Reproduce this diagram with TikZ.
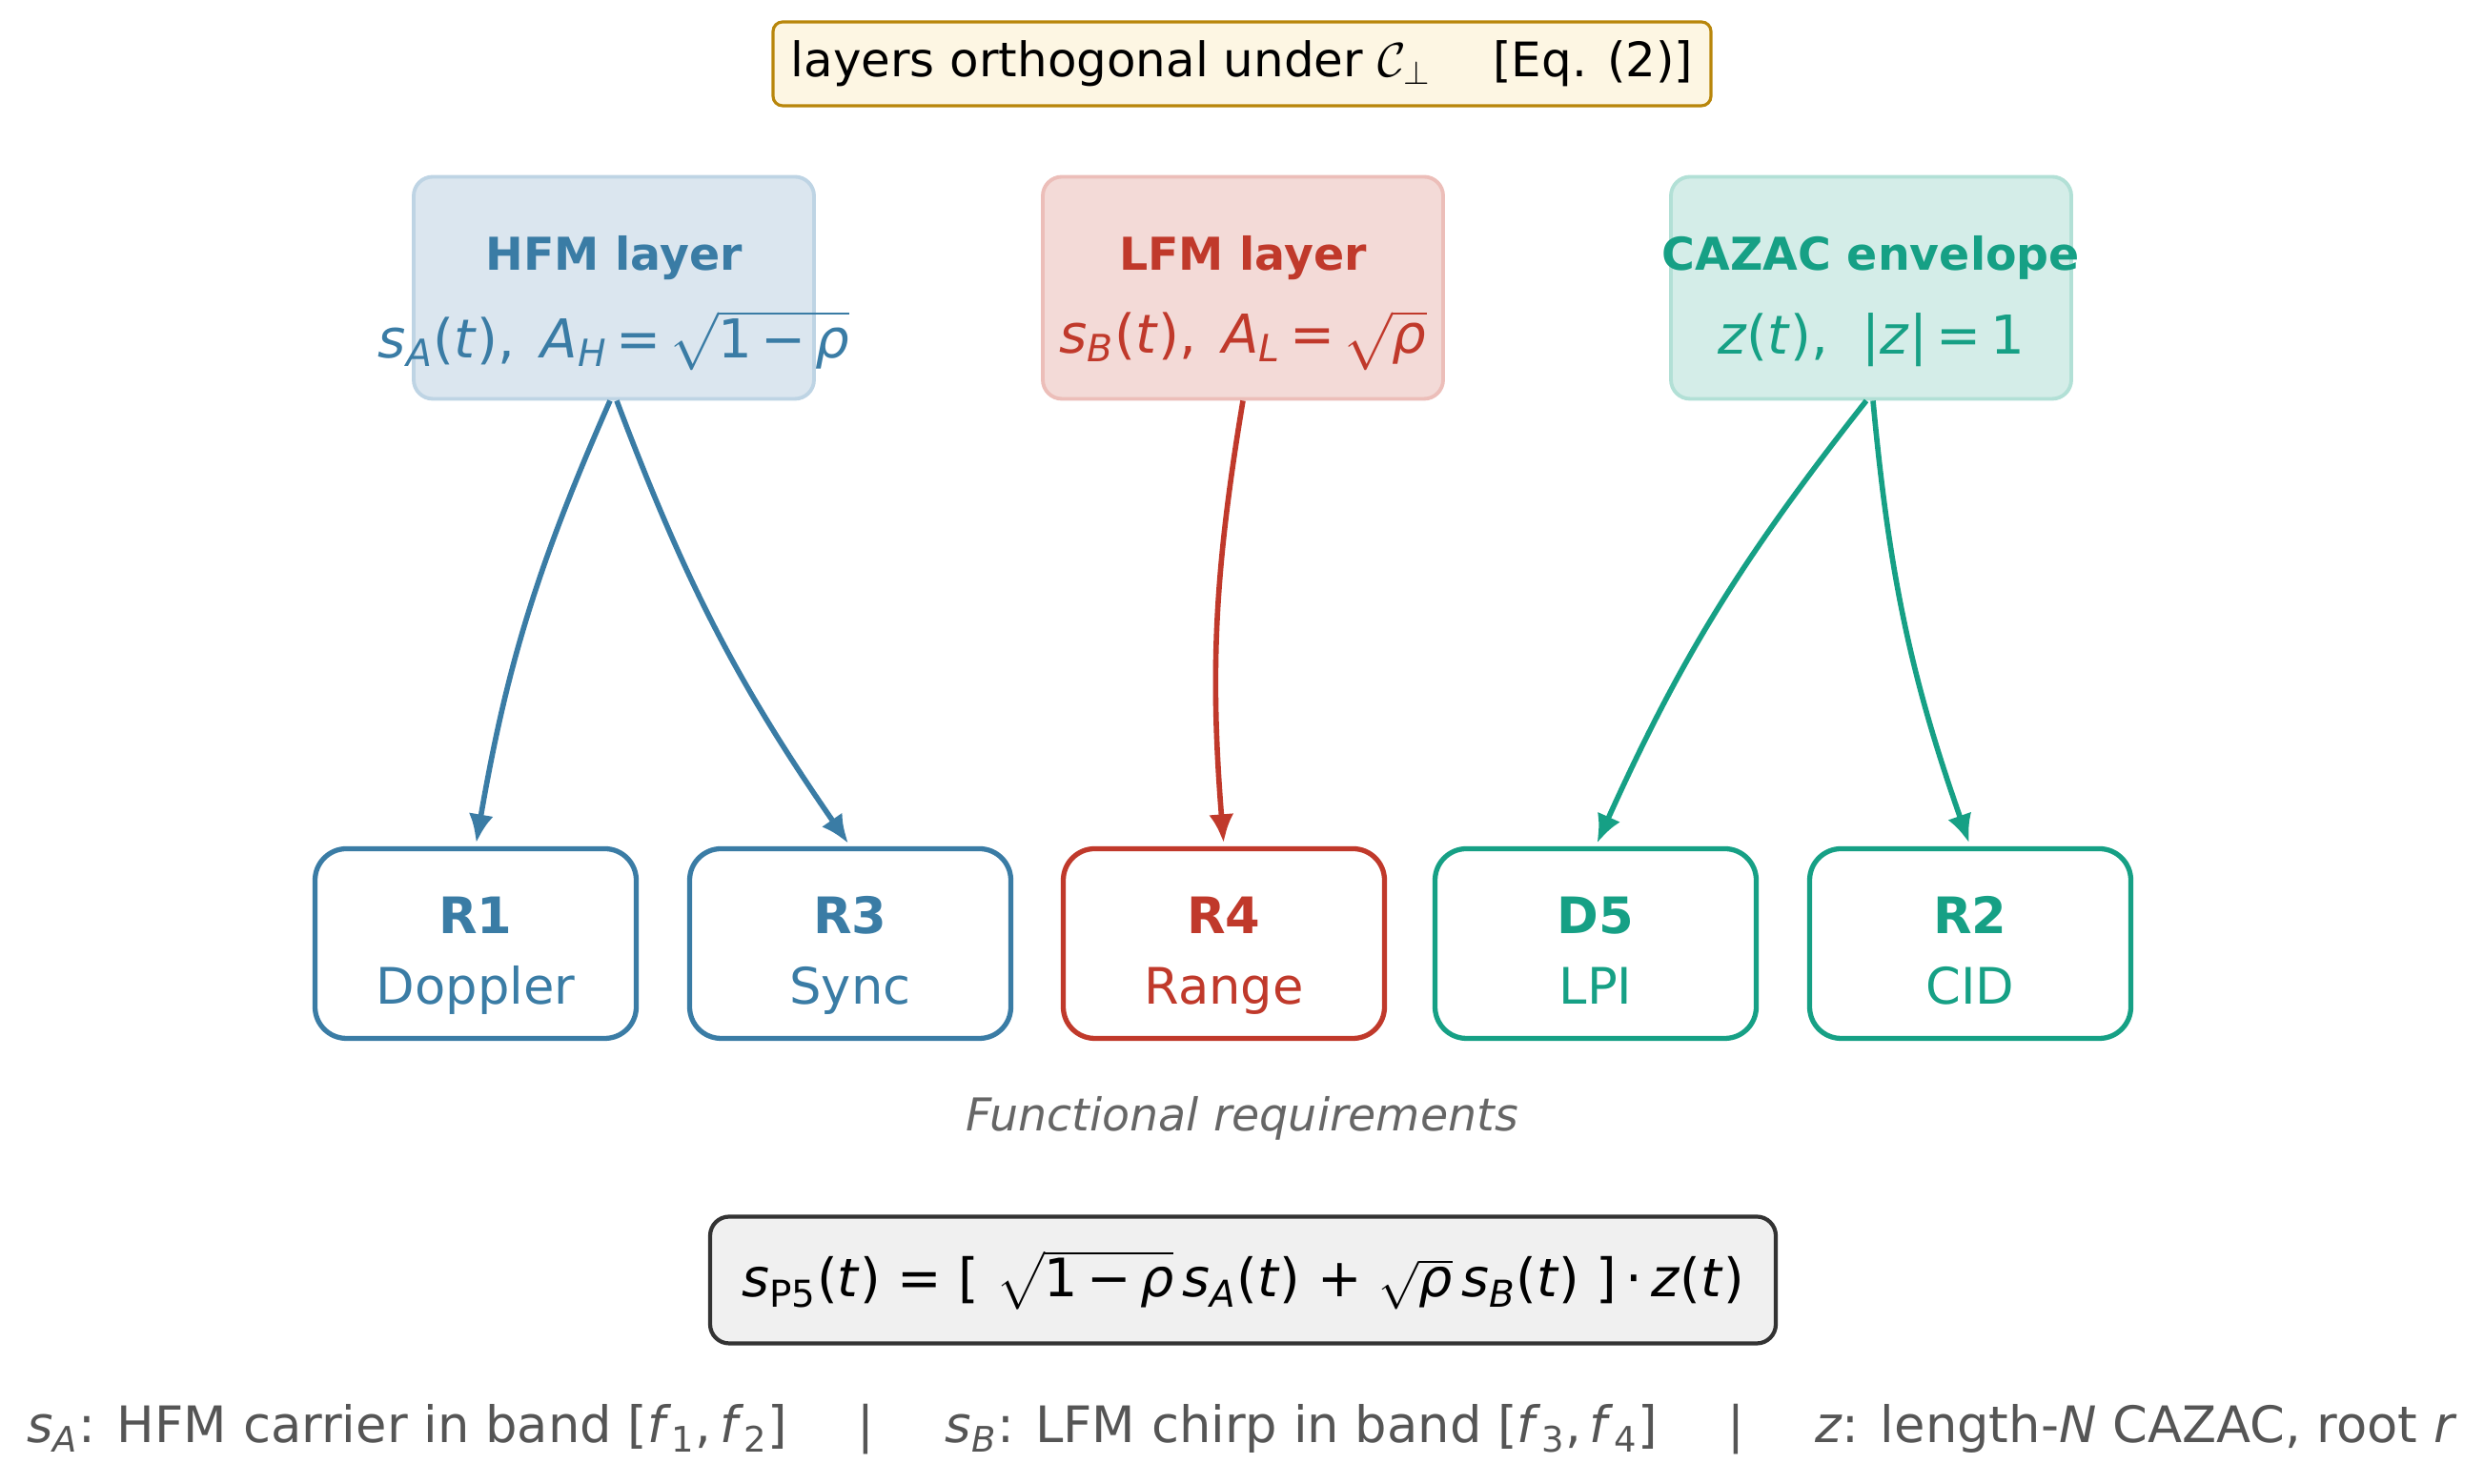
\documentclass[tikz,border=0pt]{standalone}
\usepackage{amsmath}
\usepackage{fontspec}
\setmainfont{DejaVu Sans}
\usetikzlibrary{arrows.meta}

\definecolor{hfmblue}{HTML}{3A7CA5}
\definecolor{hfmfill}{HTML}{DBE6EF}
\definecolor{hfmedge}{HTML}{BED4E4}
\definecolor{lfmred}{HTML}{C0392B}
\definecolor{lfmfill}{HTML}{F3DAD7}
\definecolor{lfmedge}{HTML}{ECBEB9}
\definecolor{czgreen}{HTML}{16A085}
\definecolor{czfill}{HTML}{D4EDE8}
\definecolor{czedge}{HTML}{B2E0D6}
\definecolor{notefill}{HTML}{FDF6E3}
\definecolor{noteedge}{HTML}{B8860B}
\definecolor{eqfill}{HTML}{F0F0F0}
\definecolor{eqedge}{HTML}{333333}
\definecolor{capgray}{HTML}{555555}
\definecolor{reqgray}{HTML}{666666}

\newcommand{\vi}[1]{\textit{#1}}
\newcommand{\rt}[1]{$\sqrt{\text{#1}}$}

\begin{document}
\begin{tikzpicture}[x=1cm,y=1cm,
  layerbox/.style={rounded corners=0.2cm,line width=1.1pt,minimum width=4.2cm,minimum height=2.33cm},
  layername/.style={anchor=base,inner sep=0pt,font=\bfseries\fontsize{13.5}{16}\selectfont},
  layereq/.style={inner sep=0pt,font=\fontsize{16}{19}\selectfont},
  reqbox/.style={draw,rounded corners=0.33cm,line width=1.5pt,fill=white,minimum width=3.37cm,minimum height=1.99cm},
  reqid/.style={anchor=base,inner sep=1pt,font=\bfseries\fontsize{15}{18}\selectfont},
  reqname/.style={anchor=base,inner sep=1pt,font=\fontsize{15}{18}\selectfont},
  link/.style={line width=1.6pt,-{Latex[length=0.3cm,width=0.26cm]},shorten >=1pt}]
\path[use as bounding box] (0,0) rectangle (26.06,15.57);

% orthogonality note
\node[draw=noteedge,fill=notefill,rounded corners=0.1cm,line width=0.9pt,minimum width=9.84cm,minimum height=0.88cm,font=\fontsize{14.2}{17}\selectfont] (note) at (13.03,14.90) {\raisebox{-0.08em}{layers orthogonal under $\mathcal{C}_\perp$\hspace{1.3em}[Eq. (2)]}};

% layers
\node[layerbox,draw=hfmedge,fill=hfmfill] (hfm) at (6.44,12.55) {};
\node[layername,text=hfmblue] (hfm-name) at (6.44,12.73) {HFM layer};
\node[layereq,text=hfmblue] (hfm-eq) at (6.44,12.00) {\vi{s}\textsubscript{\vi{A}}(\vi{t}),\ \,\vi{A}\textsubscript{\vi{H}}\,=\,\rt{1\,−\,\vi{ρ}}};

\node[layerbox,draw=lfmedge,fill=lfmfill] (lfm) at (13.04,12.55) {};
\node[layername,text=lfmred] (lfm-name) at (13.04,12.73) {LFM layer};
\node[layereq,text=lfmred] (lfm-eq) at (13.04,12.00) {\vi{s}\textsubscript{\vi{B}}(\vi{t}),\ \,\vi{A}\textsubscript{\vi{L}}\,=\,\rt{\vi{ρ}}};

\node[layerbox,draw=czedge,fill=czfill] (cazac) at (19.63,12.55) {};
\node[layername,text=czgreen] (cazac-name) at (19.63,12.73) {CAZAC envelope};
\node[layereq,text=czgreen] (cazac-eq) at (19.63,12.00) {\vi{z}(\vi{t}),\ \ |\vi{z}|\,=\,1};

% requirements
\node[reqbox,draw=hfmblue] (r1) at (4.99,5.67) {};
\node[reqid,text=hfmblue] (r1-id) at (4.99,5.77) {R1};
\node[reqname,text=hfmblue] (r1-name) at (4.99,5.03) {Doppler};

\node[reqbox,draw=hfmblue] (r3) at (8.92,5.67) {};
\node[reqid,text=hfmblue] (r3-id) at (8.92,5.77) {R3};
\node[reqname,text=hfmblue] (r3-name) at (8.92,5.03) {Sync};

\node[reqbox,draw=lfmred] (r4) at (12.84,5.67) {};
\node[reqid,text=lfmred] (r4-id) at (12.84,5.77) {R4};
\node[reqname,text=lfmred] (r4-name) at (12.84,5.03) {Range};

\node[reqbox,draw=czgreen] (d5) at (16.74,5.67) {};
\node[reqid,text=czgreen] (d5-id) at (16.74,5.77) {D5};
\node[reqname,text=czgreen] (d5-name) at (16.74,5.03) {LPI};

\node[reqbox,draw=czgreen] (r2) at (20.67,5.67) {};
\node[reqid,text=czgreen] (r2-id) at (20.67,5.77) {R2};
\node[reqname,text=czgreen] (r2-name) at (20.67,5.03) {CID};

\node[text=reqgray,font=\itshape\fontsize{13.5}{16}\selectfont] (freq) at (13.03,3.84) {Functional requirements};

% layer -> requirement links
\draw[link,hfmblue] ([xshift=-0.04cm]hfm.south) to[bend right=7] (r1.north);
\draw[link,hfmblue] ([xshift=0.03cm]hfm.south) to[bend right=7] (r3.north);
\draw[link,lfmred] (lfm.south) to[bend right=7] (r4.north);
\draw[link,czgreen] ([xshift=-0.05cm]cazac.south) to[bend right=7] (d5.north);
\draw[link,czgreen] ([xshift=0.02cm]cazac.south) to[bend right=7] (r2.north);

% composite waveform
\node[draw=eqedge,fill=eqfill,rounded corners=0.2cm,line width=1.2pt,minimum width=11.18cm,minimum height=1.33cm,font=\fontsize{15.8}{19}\selectfont] (p5) at (13.04,2.14) {\vi{s}\textsubscript{P5}(\vi{t}) = [ \rt{1\,−\,\vi{ρ}}\,\vi{s}\textsubscript{\vi{A}}(\vi{t}) + \rt{\vi{ρ}}\,\vi{s}\textsubscript{\vi{B}}(\vi{t}) ]\,·\,\vi{z}(\vi{t})};

\node[text=capgray,font=\fontsize{15}{18}\selectfont] (legend) at (13.03,0.57) {\vi{s}\textsubscript{\vi{A}}: HFM carrier in band [\vi{f}\textsubscript{1},\,\vi{f}\textsubscript{2}]\hspace{1.4em}|\hspace{1.4em}\vi{s}\textsubscript{\vi{B}}: LFM chirp in band [\vi{f}\textsubscript{3},\,\vi{f}\textsubscript{4}]\hspace{1.4em}|\hspace{1.4em}\vi{z}: length-\vi{N} CAZAC, root \vi{r}};
\end{tikzpicture}
\end{document}
